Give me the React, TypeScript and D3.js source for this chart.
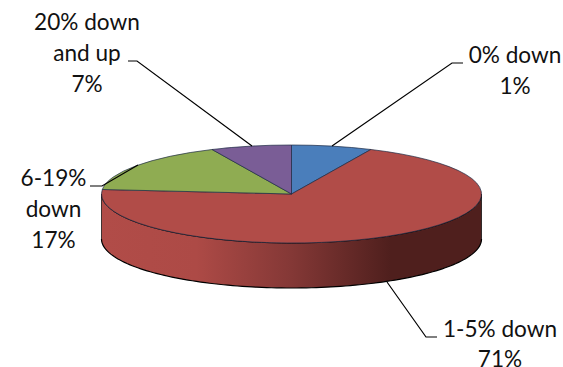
import React from "react";
import * as d3 from "d3";

// Slice sizes, clockwise from twelve o'clock. The "0% down" slice is wider than
// its printed 1% figure; its printed label is kept separately below.
const categories = ["0% down", "1-5% down", "6-19% down", "20% down and up"];
const sliceShares = [7, 71, 17, 7];
const sliceColors = ["#4a7ebb", "#b14c48", "#8fac52", "#7a5d96"];

type LabelLine = { text: string; x: number; y: number };
const labelLines: LabelLine[] = [
  { text: "20% down", x: 87, y: 30 },
  { text: "and up", x: 87, y: 61 },
  { text: "7%", x: 87, y: 92 },
  { text: "0% down", x: 515, y: 63 },
  { text: "1%", x: 515, y: 94 },
  { text: "6-19%", x: 53.5, y: 186 },
  { text: "down", x: 53.5, y: 217 },
  { text: "17%", x: 53.5, y: 248 },
  { text: "1-5% down", x: 500, y: 337 },
  { text: "71%", x: 500, y: 367 },
];

const leaders: [number, number][][] = [
  [[128, 61], [137, 61], [252, 146]],
  [[463, 63], [452, 63], [332, 146]],
  [[90, 186], [102, 186], [138, 165]],
  [[437, 337], [426, 337], [387, 282]],
];

const CX = 291.5;
const CY = 194;
const RX = 190;
const RY = 49;
const DEPTH = 45;

export default function App() {
  const pie = d3.pie<number>().sort(null).startAngle(0).endAngle(2 * Math.PI);
  const arcs = pie(sliceShares);
  const arc = d3.arc<d3.PieArcDatum<number>>().innerRadius(0).outerRadius(RX);
  const yScale = RY / RX;

  // Lower half of the rim, sweeping from the right edge to the left edge.
  const rimAngles = d3.range(0, Math.PI + 0.001, Math.PI / 120);
  const rimTop = rimAngles.map((t) => [CX + RX * Math.cos(t), CY + RY * Math.sin(t)] as [number, number]);
  const rimBottom = rimTop.map(([x, y]) => [x, y + DEPTH] as [number, number]).reverse();
  const line = d3.line();
  const wall = line([...rimTop, ...rimBottom]) + "Z";
  const bottomEdge = line(rimBottom) ?? "";
  const topEdge = line(rimTop) ?? "";

  return (
    <svg
      width={563}
      height={367}
      style={{ position: "absolute", left: 0, top: 0, background: "#fff" }}
      fontFamily="Lato, Carlito, sans-serif"
    >
      <defs>
        <linearGradient id="wallShade" gradientUnits="userSpaceOnUse" x1={CX - RX} x2={CX + RX} y1={0} y2={0}>
          <stop offset="0" stopColor="#b14c48" />
          <stop offset="0.25" stopColor="#ad4a46" />
          <stop offset="0.5" stopColor="#843836" />
          <stop offset="0.76" stopColor="#4f1f1d" />
          <stop offset="1" stopColor="#4f1f1d" />
        </linearGradient>
      </defs>
      <path d={wall} fill="url(#wallShade)" />
      <path d={bottomEdge} fill="none" stroke="#000" strokeWidth={1.2} />
      <path d={`M${CX - RX},${CY}V${CY + DEPTH}M${CX + RX},${CY}V${CY + DEPTH}`} fill="none" stroke="#000" strokeWidth={0.7} />
      <path d={topEdge} fill="none" stroke="#000" strokeWidth={1} />
      <g transform={`translate(${CX},${CY}) scale(1,${yScale})`}>
        {arcs.map((a, i) => (
          <path
            key={categories[i]}
            d={arc(a) ?? ""}
            fill={sliceColors[i]}
            stroke="#1c2a44"
            strokeWidth={0.7}
            vectorEffect="non-scaling-stroke"
          />
        ))}
      </g>
      {leaders.map((pts, i) => (
        <path key={i} d={line(pts) ?? ""} fill="none" stroke="#000" strokeWidth={1.2} />
      ))}
      {labelLines.map((l) => (
        <text key={l.text + l.x} x={l.x} y={l.y} textAnchor="middle" fontSize={22.6} fill="#111">
          {l.text}
        </text>
      ))}
    </svg>
  );
}
